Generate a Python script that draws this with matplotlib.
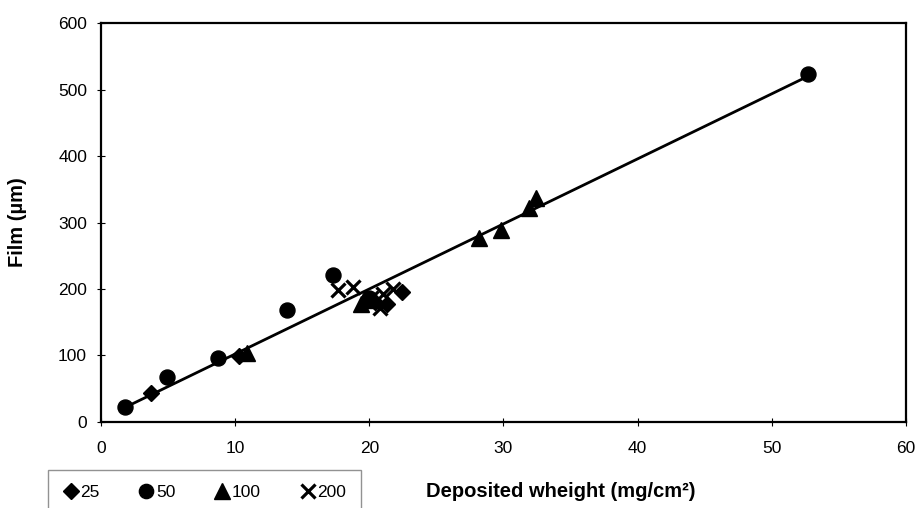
import matplotlib
matplotlib.use("Agg")
import matplotlib.pyplot as plt
import numpy as np

plt.rcParams['font.family'] = ['Liberation Sans', 'DejaVu Sans']

# Data
x25 = [3.7, 10.3, 20.4, 21.3, 22.4]
y25 = [43, 99, 180, 178, 195]

x50 = [1.8, 4.9, 8.7, 13.9, 17.3, 20.0, 52.7]
y50 = [22, 68, 96, 169, 221, 186, 524]

x100 = [10.9, 19.4, 19.8, 28.2, 29.8, 31.9, 32.4]
y100 = [104, 177, 183, 277, 288, 322, 337]

x200 = [17.7, 18.8, 20.1, 20.8, 21.0, 21.8]
y200 = [199, 203, 186, 172, 192, 200]

labels = ['25', '50', '100', '200']

# linear trend line (end points)
trend_x = [1.8, 52.7]
trend_y = [22, 520]

fig = plt.figure(figsize=(9.17, 5.08), dpi=100)
ax = fig.add_axes([0.1101, 0.1693, 0.8779, 0.7854])

ax.plot(trend_x, trend_y, color='black', lw=2, zorder=2)
h1, = ax.plot(x25, y25, 'D', color='black', ms=8.5, ls='none', zorder=3)
h2, = ax.plot(x50, y50, 'o', color='black', ms=10.8, ls='none', zorder=3)
h3, = ax.plot(x100, y100, '^', color='black', ms=11.5, ls='none', zorder=3)
h4, = ax.plot(x200, y200, 'x', color='black', ms=10, mew=2.3, ls='none', zorder=3)

ax.set_xlim(0, 60)
ax.set_ylim(0, 600)
ax.set_xticks(range(0, 61, 10))
ax.set_yticks(range(0, 601, 100))
ax.tick_params(direction='inout', length=6, width=0.8, labelsize=12.5)
ax.tick_params(axis='x', pad=11)
ax.tick_params(axis='y', pad=7)
for s in ax.spines.values():
    s.set_linewidth(1.6)

fig.text(0.019, 0.563, 'Film (µm)', fontsize=14.5, fontweight='bold',
         rotation=90, ha='center', va='center')
fig.text(0.611, 0.033, 'Deposited wheight (mg/cm²)', fontsize=14.5,
         fontweight='bold', ha='center', va='center')

leg = fig.legend([h1, h2, h3, h4], labels, loc='upper left',
                 bbox_to_anchor=(0.0523, 0.0748), ncol=4, frameon=True,
                 fancybox=False, fontsize=12.5, handlelength=0.9,
                 handletextpad=0.1, borderaxespad=0, borderpad=0.85,
                 markerscale=0.95, columnspacing=2.25)
leg.get_frame().set_edgecolor('#777777')
leg.get_frame().set_linewidth(1.0)

fig.savefig('out.png', dpi=100)
